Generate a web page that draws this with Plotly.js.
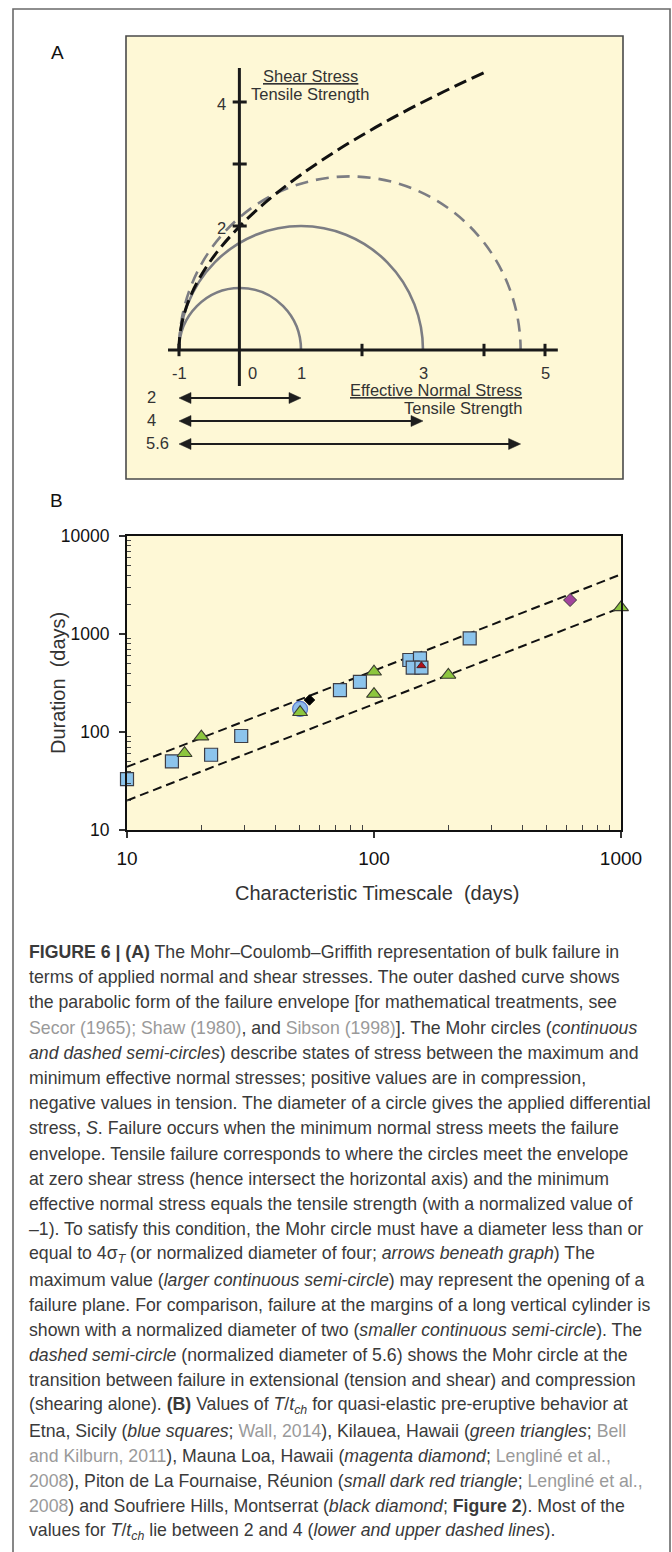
<!DOCTYPE html>
<html>
<head>
<meta charset="utf-8">
<script src="https://cdn.plot.ly/plotly-3.0.1.min.js"></script>
<style>
html,body{margin:0;padding:0;background:#fff;}
#chart{width:672px;height:1552px;}
</style>
</head>
<body>
<div id="chart"></div>
<script>
// ---------------- DATA ----------------
// Panel A: Mohr circles (normalized by tensile strength)
const circleCenters = [0, 1, 1.8];
const circleRadii   = [1, 2, 2.8];
const circleDashed  = [false, false, true];
const tensileStrength = 1;          // normalized
const envelopeTauMax  = 4.5;        // top end of the failure envelope
const arrowDiameters  = [2, 4, 5.6];
const arrowLabels     = ['2', '4', '5.6'];
const aXTickVals  = [-1, 2, 4, 5];
const aYTickVals  = [2, 3, 4];
const aXLabelVals = [-1, 0, 1, 3, 5];
const aXLabelText = ['-1', '0', '1', '3', '5'];
const aYLabelVals = [2, 4];
const aYLabelText = ['2', '4'];

// Panel B: duration vs characteristic timescale
const lineX  = [10, 1000];
const upperY = [44, 4060];
const lowerY = [20, 1860];
const etnaX = [10, 15.2, 21.9, 29.0, 72.8, 87.7, 139, 153.5, 143.5, 155.6, 244];
const etnaY = [33.1, 50.2, 58.6, 91, 268, 324, 543, 565, 453, 453, 903];
const etnaCircleX = [50.2];
const etnaCircleY = [172];
const kilaueaX = [17.1, 20, 50.2, 100, 100, 200, 1000];
const kilaueaY = [60.7, 89.6, 159, 412, 244, 382, 1870];
const maunaLoaX = [622];
const maunaLoaY = [2222];
const soufriereX = [54.8];
const soufriereY = [212];
const pitonX = [155.6];
const pitonY = [475];
const bXTickVals = [10, 100, 1000];
const bXTickText = ['10', '100', '1000'];
const bYTickVals = [10, 100, 1000, 10000];
const bYTickText = ['10', '100', '1000', '10000'];

const G = '<span style="color:#9a9a9a">';
const E = '</span>';
const captionLines = [
  '<b>FIGURE 6 | (A)</b> The Mohr\u2013Coulomb\u2013Griffith representation of bulk failure in',
  'terms of applied normal and shear stresses. The outer dashed curve shows',
  'the parabolic form of the failure envelope [for mathematical treatments, see',
  G + 'Secor (1965); Shaw (1980)' + E + ', and ' + G + 'Sibson (1998)' + E + ']. The Mohr circles (<i>continuous</i>',
  '<i>and dashed semi-circles</i>) describe states of stress between the maximum and',
  'minimum effective normal stresses; positive values are in compression,',
  'negative values in tension. The diameter of a circle gives the applied differential',
  'stress, <i>S</i>. Failure occurs when the minimum normal stress meets the failure',
  'envelope. Tensile failure corresponds to where the circles meet the envelope',
  'at zero shear stress (hence intersect the horizontal axis) and the minimum',
  'effective normal stress equals the tensile strength (with a normalized value of',
  '\u20131). To satisfy this condition, the Mohr circle must have a diameter less than or',
  'equal to 4\u03c3<sub><i>T</i></sub> (or normalized diameter of four; <i>arrows beneath graph</i>) The',
  'maximum value (<i>larger continuous semi-circle</i>) may represent the opening of a',
  'failure plane. For comparison, failure at the margins of a long vertical cylinder is',
  'shown with a normalized diameter of two (<i>smaller continuous semi-circle</i>). The',
  '<i>dashed semi-circle</i> (normalized diameter of 5.6) shows the Mohr circle at the',
  'transition between failure in extensional (tension and shear) and compression',
  '(shearing alone). <b>(B)</b> Values of <i>T</i>/<i>t<sub>ch</sub></i> for quasi-elastic pre-eruptive behavior at',
  'Etna, Sicily (<i>blue squares</i>; ' + G + 'Wall, 2014' + E + '), Kilauea, Hawaii (<i>green triangles</i>; ' + G + 'Bell' + E,
  G + 'and Kilburn, 2011' + E + '), Mauna Loa, Hawaii (<i>magenta diamond</i>; ' + G + 'Lenglin\u00e9 et al.,' + E,
  G + '2008' + E + '), Piton de La Fournaise, R\u00e9union (<i>small dark red triangle</i>; ' + G + 'Lenglin\u00e9 et al.,' + E,
  G + '2008' + E + ') and Soufriere Hills, Montserrat (<i>black diamond</i>; <b>Figure 2</b>). Most of the',
  'values for <i>T</i>/<i>t<sub>ch</sub></i> lie between 2 and 4 (<i>lower and upper dashed lines</i>).'
];

// ---------------- LAYOUT HELPERS ----------------
const W = 672, H = 1552;
const PX = p => p / W;
const PY = p => 1 - p / H;
const FONT = 'Liberation Sans, Arial, Helvetica, sans-serif';
const AFONT = {family: FONT, size: 16.5, color: '#333'};

// panel A pixel geometry
const aBox = {l: 126, r: 623, t: 36, b: 479};
const aOrigin = {x: 240, y: 350};
const aUnitX = 61, aUnitY = 62;
const aXRange = [(aBox.l - aOrigin.x) / aUnitX, (aBox.r - aOrigin.x) / aUnitX];
const aYRangeFull = [(aOrigin.y - aBox.b) / aUnitY, (aOrigin.y - aBox.t) / aUnitY];
const aYRangeTop = [0, (aOrigin.y - aBox.t) / aUnitY];

// panel B pixel geometry
const bBox = {l: 127, r: 621, t: 536, b: 830};

const shapes = [];
const annotations = [];

// outer frame (open at the bottom)
shapes.push({type: 'path', xref: 'paper', yref: 'paper',
  path: `M ${PX(13)},${PY(1560)} L ${PX(13)},${PY(9)} L ${PX(670)},${PY(9)} L ${PX(670)},${PY(1560)}`,
  line: {color: '#6a6a6a', width: 1.6}});

// panel A box
shapes.push({type: 'rect', xref: 'paper', yref: 'paper', layer: 'above',
  x0: PX(aBox.l), x1: PX(aBox.r), y0: PY(aBox.b), y1: PY(aBox.t),
  line: {color: '#4a4a4a', width: 1.6}});

// Mohr semicircles (clipped at the horizontal axis by subplot x2y3)
circleCenters.forEach((c, i) => {
  const r = circleRadii[i];
  shapes.push({type: 'circle', xref: 'x2', yref: 'y3',
    x0: c - r, x1: c + r, y0: -r, y1: r,
    line: {color: '#7c7d83', width: 2.6, dash: circleDashed[i] ? '13px,8px' : 'solid'}});
});

// Griffith parabolic envelope: sigma = tau^2/(4T) - T, exact quadratic Bezier
{
  const T = tensileStrength, t2 = envelopeTauMax;
  const s2 = t2 * t2 / (4 * T) - T;
  shapes.push({type: 'path', xref: 'x2', yref: 'y3',
    path: `M ${-T},0 Q ${-T},${t2 / 2} ${s2},${t2}`,
    line: {color: '#111', width: 3, dash: '13px,6px'}});
}

// panel A axes
shapes.push({type: 'line', xref: 'x2', yref: 'y2', x0: -1.18, x1: 5.21, y0: 0, y1: 0,
  line: {color: '#1a1a1a', width: 3}});
shapes.push({type: 'line', xref: 'x2', yref: 'y2', x0: -0.01, x1: -0.01, y0: -0.58, y1: 4.55,
  line: {color: '#1a1a1a', width: 3}});
aXTickVals.forEach(v => shapes.push({type: 'line', xref: 'x2', yref: 'y2',
  x0: v, x1: v, y0: -0.1, y1: 0.1, line: {color: '#1a1a1a', width: 3}}));
aYTickVals.forEach(v => shapes.push({type: 'line', xref: 'x2', yref: 'y2',
  x0: -0.12, x1: 0.11, y0: v, y1: v, line: {color: '#1a1a1a', width: 3}}));

aXLabelVals.forEach((v, i) => annotations.push({xref: 'x2', yref: 'y2', x: v, y: 0,
  yshift: -23, xshift: v === 0 ? 12 : 0, text: aXLabelText[i], showarrow: false, font: AFONT}));
aYLabelVals.forEach((v, i) => annotations.push({xref: 'x2', yref: 'y2', x: 0, y: v,
  xshift: -19, yshift: -2, text: aYLabelText[i], showarrow: false, font: AFONT}));

// diameter arrows beneath graph (double-headed, from sigma = -1 to -1 + d)
const arrowRowPx = [398, 421, 444];
const arrowLabelPx = [151, 151, 157];
const headL = 12 / aUnitX, headH = 5.5 / aUnitY;
arrowDiameters.forEach((d, i) => {
  const ty = (aOrigin.y - arrowRowPx[i]) / aUnitY;
  const a = -1, b = -1 + d;
  shapes.push({type: 'line', xref: 'x2', yref: 'y2', x0: a + headL * 0.8, x1: b - headL * 0.8, y0: ty, y1: ty,
    line: {color: '#1e1e1e', width: 2.2}});
  shapes.push({type: 'path', xref: 'x2', yref: 'y2',
    path: `M ${a},${ty} L ${a + headL},${ty + headH} L ${a + headL},${ty - headH} Z`,
    fillcolor: '#1e1e1e', line: {color: '#1e1e1e', width: 0.5}});
  shapes.push({type: 'path', xref: 'x2', yref: 'y2',
    path: `M ${b},${ty} L ${b - headL},${ty + headH} L ${b - headL},${ty - headH} Z`,
    fillcolor: '#1e1e1e', line: {color: '#1e1e1e', width: 0.5}});
  annotations.push({xref: 'paper', yref: 'paper', x: PX(arrowLabelPx[i]), y: PY(arrowRowPx[i] - 1),
    text: arrowLabels[i], showarrow: false, xanchor: 'center', yanchor: 'middle', font: AFONT});
});

// panel A axis titles (fraction form)
annotations.push({xref: 'paper', yref: 'paper', x: PX(310), y: PY(76), text: 'Shear Stress',
  showarrow: false, yanchor: 'middle', font: Object.assign({}, AFONT, {lineposition: 'under'})});
annotations.push({xref: 'paper', yref: 'paper', x: PX(310), y: PY(94), text: 'Tensile Strength',
  showarrow: false, yanchor: 'middle', font: AFONT});
annotations.push({xref: 'paper', yref: 'paper', x: PX(524), y: PY(390), text: 'Effective Normal Stress',
  showarrow: false, yanchor: 'middle', font: Object.assign({}, AFONT, {lineposition: 'under'})});
annotations.push({xref: 'paper', yref: 'paper', x: PX(524), y: PY(408), text: 'Tensile Strength',
  showarrow: false, yanchor: 'middle', font: AFONT});

// panel letters
annotations.push({xref: 'paper', yref: 'paper', x: PX(49), y: PY(40), text: 'A', showarrow: false,
  font: {family: FONT, size: 19, color: '#111'}});
annotations.push({xref: 'paper', yref: 'paper', x: PX(48), y: PY(488), text: 'B', showarrow: false,
  font: {family: FONT, size: 19, color: '#111'}});

// panel B axis titles
annotations.push({xref: 'paper', yref: 'paper', x: PX(45), y: PY(683), text: 'Duration\u00a0 (days)',
  textangle: -90, showarrow: false, font: {family: FONT, size: 20, color: '#333'}});
annotations.push({xref: 'paper', yref: 'paper', x: PX(377), y: PY(893), text: 'Characteristic Timescale\u00a0 (days)',
  showarrow: false, font: {family: FONT, size: 20, color: '#333'}});

// caption
captionLines.forEach((t, i) => annotations.push({xref: 'paper', yref: 'paper',
  x: PX(27), y: PY(952 + 25.2 * i), xanchor: 'left', yanchor: 'middle', align: 'left',
  text: t, showarrow: false, font: {family: FONT, size: 17.7, color: '#3a3a3a'}}));

// minor ticks for log axes (digits 2..9 of each decade)
function minorTicks(lo, hi) {
  const out = [];
  for (let d = lo; d < hi; d *= 10) for (let k = 2; k <= 9; k++) out.push(d * k);
  return out;
}

// ---------------- TRACES ----------------
const lineStyle = {color: '#111', width: 2, dash: '9px,5px'};
const mk = (fill, sym, size, lc, lw) => ({color: fill, symbol: sym, size: size, line: {color: lc, width: lw}});
const traces = [
  {x: [], y: [], xaxis: 'x2', yaxis: 'y2', type: 'scatter', hoverinfo: 'skip', showlegend: false},
  {x: [], y: [], xaxis: 'x2', yaxis: 'y3', type: 'scatter', hoverinfo: 'skip', showlegend: false},
  {x: lineX, y: upperY, mode: 'lines', line: lineStyle, name: 'T/tch = 4'},
  {x: lineX, y: lowerY, mode: 'lines', line: lineStyle, name: 'T/tch = 2'},
  {x: etnaX, y: etnaY, mode: 'markers', name: 'Etna', marker: mk('#8cc4ec', 'square', 13, '#3d3d45', 1.2), cliponaxis: false},
  {x: etnaCircleX, y: etnaCircleY, mode: 'markers', name: 'Etna (circle)', marker: mk('#8dbbe9', 'circle', 15, '#5a78d0', 1.2), cliponaxis: false},
  {x: kilaueaX, y: kilaueaY, mode: 'markers', name: 'Kilauea', marker: mk('#8dc63f', 'triangle-up', 13, '#3a3a30', 1.1), cliponaxis: false},
  {x: maunaLoaX, y: maunaLoaY, mode: 'markers', name: 'Mauna Loa', marker: mk('#a2449c', 'diamond', 10, '#3a3a3a', 1), cliponaxis: false},
  {x: soufriereX, y: soufriereY, mode: 'markers', name: 'Soufriere Hills', marker: mk('#000', 'diamond', 8, '#000', 1), cliponaxis: false},
  {x: pitonX, y: pitonY, mode: 'markers', name: 'Piton de La Fournaise', marker: mk('#b0101a', 'triangle-up', 8, '#3a1010', 0.8), cliponaxis: false}
];

const layout = {
  width: W, height: H,
  margin: {l: 0, r: 0, t: 0, b: 0},
  paper_bgcolor: '#ffffff',
  plot_bgcolor: '#fef8d6',
  showlegend: false,
  font: {family: FONT},
  xaxis: {type: 'log', domain: [PX(bBox.l), PX(bBox.r)], range: [1, 3], anchor: 'y',
    showline: true, linecolor: '#111', linewidth: 2, mirror: true,
    ticks: 'outside', ticklen: 6, tickwidth: 1.5, tickcolor: '#333',
    tickmode: 'array', tickvals: bXTickVals, ticktext: bXTickText, ticklabelstandoff: 4,
    tickfont: {family: FONT, size: 19, color: '#111'},
    minor: {tickmode: 'array', tickvals: minorTicks(10, 1000), ticks: 'inside', ticklen: 5, tickwidth: 1, tickcolor: '#444'},
    showgrid: false, zeroline: false, fixedrange: true},
  yaxis: {type: 'log', domain: [PY(bBox.b), PY(bBox.t)], range: [1, 4], anchor: 'x',
    showline: true, linecolor: '#111', linewidth: 2, mirror: true,
    ticks: 'outside', ticklen: 6, tickwidth: 1.5, tickcolor: '#333',
    tickmode: 'array', tickvals: bYTickVals, ticktext: bYTickText, ticklabelstandoff: 6,
    tickfont: {family: FONT, size: 17.5, color: '#111'},
    minor: {tickmode: 'array', tickvals: minorTicks(10, 10000), ticks: 'inside', ticklen: 4, tickwidth: 1, tickcolor: '#444'},
    showgrid: false, zeroline: false, fixedrange: true},
  xaxis2: {domain: [PX(aBox.l), PX(aBox.r)], range: aXRange, anchor: 'y2', visible: false, fixedrange: true},
  yaxis2: {domain: [PY(aBox.b), PY(aBox.t)], range: aYRangeFull, anchor: 'x2', visible: false, fixedrange: true},
  yaxis3: {domain: [PY(aOrigin.y), PY(aBox.t)], range: aYRangeTop, anchor: 'x2', visible: false, fixedrange: true},
  shapes: shapes,
  annotations: annotations
};

Plotly.newPlot('chart', traces, layout, {displayModeBar: false, staticPlot: true});
</script>
</body>
</html>
